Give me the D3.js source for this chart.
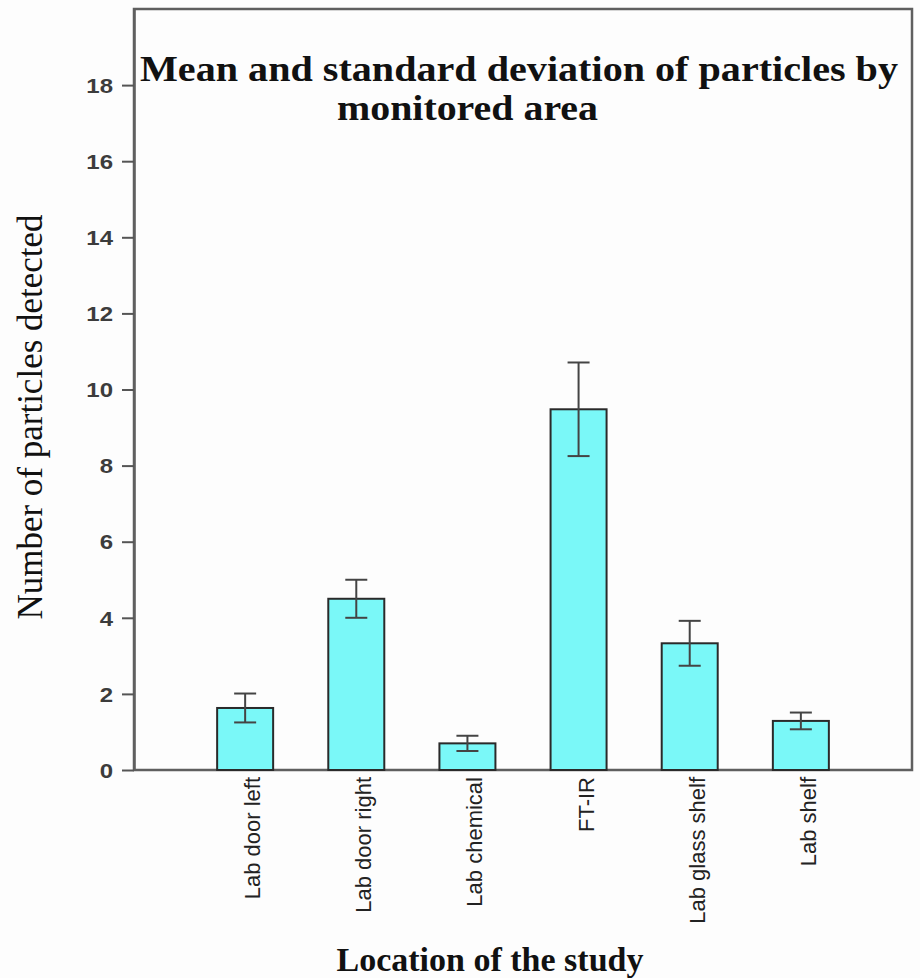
<!DOCTYPE html>
<html>
<head>
<meta charset="utf-8">
<script src="https://cdn.jsdelivr.net/npm/d3@7"></script>
<style>
  body { margin: 0; background: #fdfdfd; }
  svg { display: block; }
</style>
</head>
<body>
<div id="chart"></div>
<script>
var w = 920;
var h = 978;

// data
var locations = ["Lab door left", "Lab door right", "Lab chemical", "FT-IR", "Lab glass shelf", "Lab shelf"];
var means = [1.63, 4.5, 0.7, 9.48, 3.33, 1.29];
var sds = [0.38, 0.5, 0.2, 1.23, 0.59, 0.22];
var yTicks = [0, 2, 4, 6, 8, 10, 12, 14, 16, 18];

// plot box (window.top is reserved, so no "top" here)
var plotL = 134, plotR = 912, plotT = 9, plotB = 770;
var barW = 56;

var svg = d3.select("#chart")
            .append("svg")
            .attr("width", w)
            .attr("height", h);

var x = d3.scalePoint()
          .domain(locations)
          .range([plotL, plotR])
          .padding(1);

var y = d3.scaleLinear()
          .domain([0, 20])
          .range([plotB, plotT]);

// frame
svg.append("rect")
   .attr("x", plotL)
   .attr("y", plotT)
   .attr("width", plotR - plotL)
   .attr("height", plotB - plotT)
   .attr("fill", "none")
   .attr("stroke", "#5f5f5f")
   .attr("stroke-width", 2.5);

// y axis ticks
var yAxis = svg.append("g")
               .attr("transform", "translate(" + plotL + ",0)")
               .call(d3.axisLeft(y).tickValues(yTicks).tickSize(12).tickSizeOuter(0).tickPadding(0));
yAxis.select(".domain").attr("stroke", "#5f5f5f").attr("stroke-width", 2.5);
yAxis.selectAll(".tick line").attr("stroke", "#555").attr("stroke-width", 2);
yAxis.selectAll(".tick text")
     .attr("font-family", "Liberation Sans, Arial, sans-serif")
     .attr("font-weight", "bold")
     .attr("font-size", 20)
     .attr("fill", "#3c3c3c")
     .attr("x", 0)
     .attr("dy", "0.36em")
     .attr("transform", "translate(-21,0) scale(1.2,1)");

// bars
var data = locations.map(function (d, i) { return {name: d, m: means[i], s: sds[i]}; });

svg.selectAll(".bar")
   .data(data)
   .enter()
   .append("rect")
   .attr("class", "bar")
   .attr("x", function (d) { return x(d.name) - barW / 2; })
   .attr("y", function (d) { return y(d.m); })
   .attr("width", barW)
   .attr("height", function (d) { return y(0) - y(d.m); })
   .attr("fill", "#7af8f8")
   .attr("stroke", "#2a2a2a")
   .attr("stroke-width", 2);

// error bars
var err = svg.selectAll(".err")
             .data(data)
             .enter()
             .append("g")
             .attr("class", "err")
             .attr("stroke", "#444")
             .attr("stroke-width", 2);

err.append("line")
   .attr("x1", function (d) { return x(d.name); })
   .attr("x2", function (d) { return x(d.name); })
   .attr("y1", function (d) { return y(d.m + d.s); })
   .attr("y2", function (d) { return y(d.m - d.s); });
err.append("line")
   .attr("x1", function (d) { return x(d.name) - 11; })
   .attr("x2", function (d) { return x(d.name) + 11; })
   .attr("y1", function (d) { return y(d.m + d.s); })
   .attr("y2", function (d) { return y(d.m + d.s); });
err.append("line")
   .attr("x1", function (d) { return x(d.name) - 11; })
   .attr("x2", function (d) { return x(d.name) + 11; })
   .attr("y1", function (d) { return y(d.m - d.s); })
   .attr("y2", function (d) { return y(d.m - d.s); });

// category labels, rotated
svg.selectAll(".xlab")
   .data(locations)
   .enter()
   .append("text")
   .attr("class", "xlab")
   .text(function (d) { return d; })
   .attr("transform", function (d) { return "translate(" + (x(d) + 15) + "," + (plotB + 7) + ") rotate(-90)"; })
   .attr("text-anchor", "end")
   .attr("font-family", "Liberation Sans, Arial, sans-serif")
   .attr("font-size", 22)
   .attr("fill", "#222");

// title (two lines)
svg.append("text")
   .text("Mean and standard deviation of particles by")
   .attr("x", 140)
   .attr("y", 81)
   .attr("textLength", 758)
   .attr("lengthAdjust", "spacingAndGlyphs")
   .attr("font-family", "Liberation Serif, Times New Roman, serif")
   .attr("font-weight", "bold")
   .attr("font-size", 35)
   .attr("fill", "#111");
svg.append("text")
   .text("monitored area")
   .attr("x", 337)
   .attr("y", 120)
   .attr("textLength", 261)
   .attr("lengthAdjust", "spacingAndGlyphs")
   .attr("font-family", "Liberation Serif, Times New Roman, serif")
   .attr("font-weight", "bold")
   .attr("font-size", 35)
   .attr("fill", "#111");

// axis titles
svg.append("text")
   .text("Number of particles detected")
   .attr("transform", "translate(42,417) rotate(-90)")
   .attr("text-anchor", "middle")
   .attr("font-family", "Liberation Serif, Times New Roman, serif")
   .attr("font-size", 35)
   .attr("fill", "#111");

svg.append("text")
   .text("Location of the study")
   .attr("x", 490)
   .attr("y", 971)
   .attr("text-anchor", "middle")
   .attr("font-family", "Liberation Serif, Times New Roman, serif")
   .attr("font-weight", "bold")
   .attr("font-size", 34)
   .attr("fill", "#111");
</script>
</body>
</html>
